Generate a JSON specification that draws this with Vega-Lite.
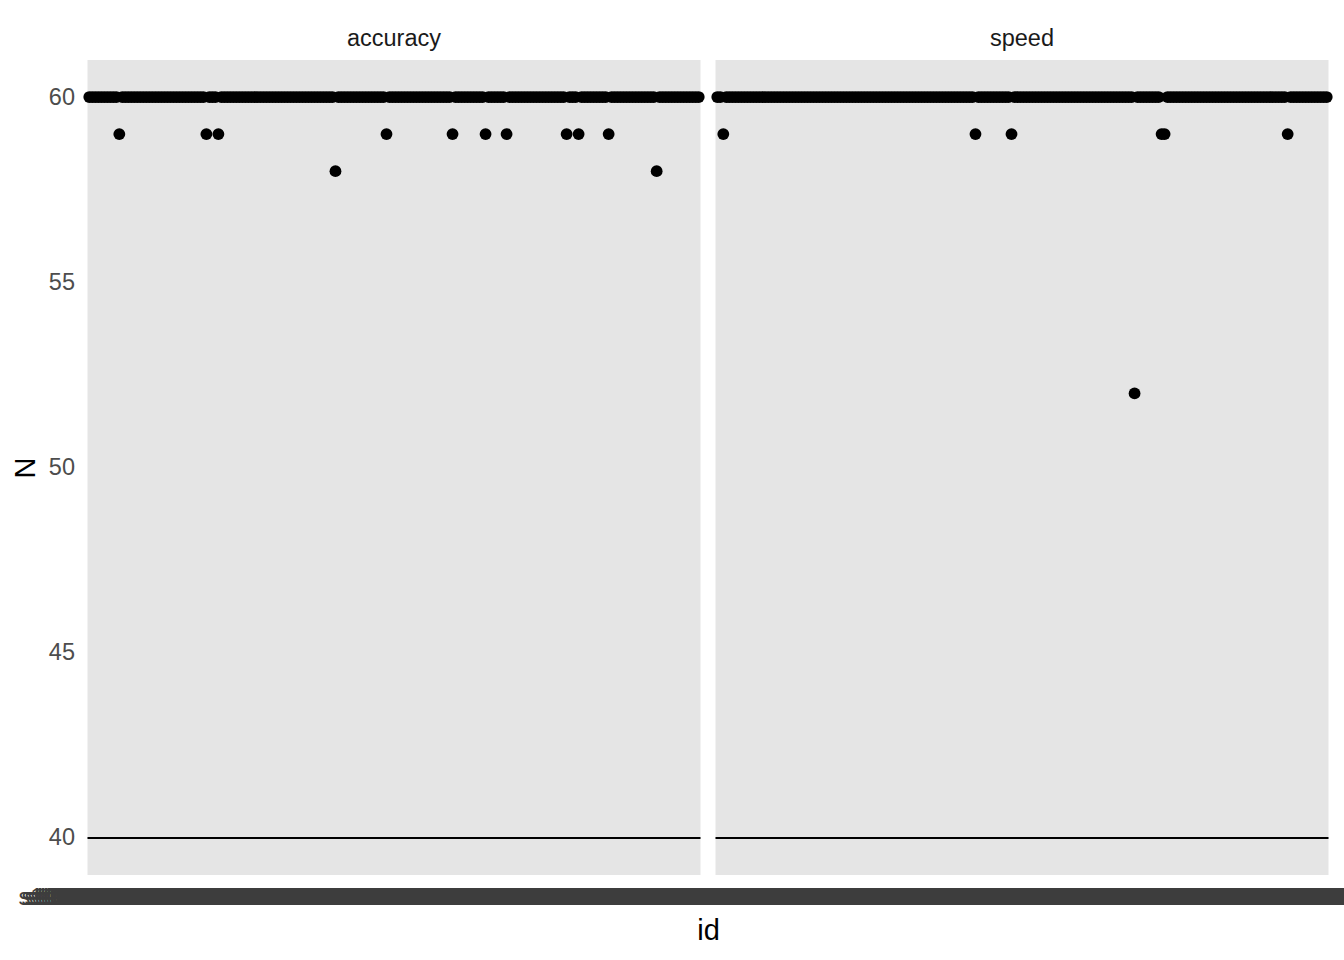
{
  "$schema": "https://vega.github.io/schema/vega-lite/v6.json",
  "padding": {"left": 10.5, "top": 26, "right": 0, "bottom": 5},
  "background": "white",
  "data": {"values": [
    {"id":"s1000000001","accuracy":60,"speed":60},{"id":"s1000000002","accuracy":60,"speed":60},{"id":"s1000000003","accuracy":60,"speed":59},{"id":"s1000000004","accuracy":60,"speed":60},{"id":"s1000000005","accuracy":60,"speed":60},{"id":"s1000000006","accuracy":60,"speed":60},{"id":"s1000000007","accuracy":60,"speed":60},{"id":"s1000000008","accuracy":60,"speed":60},{"id":"s1000000009","accuracy":60,"speed":60},{"id":"s1000000010","accuracy":60,"speed":60},
    {"id":"s1000000011","accuracy":59,"speed":60},{"id":"s1000000012","accuracy":60,"speed":60},{"id":"s1000000013","accuracy":60,"speed":60},{"id":"s1000000014","accuracy":60,"speed":60},{"id":"s1000000015","accuracy":60,"speed":60},{"id":"s1000000016","accuracy":60,"speed":60},{"id":"s1000000017","accuracy":60,"speed":60},{"id":"s1000000018","accuracy":60,"speed":60},{"id":"s1000000019","accuracy":60,"speed":60},{"id":"s1000000020","accuracy":60,"speed":60},
    {"id":"s1000000021","accuracy":60,"speed":60},{"id":"s1000000022","accuracy":60,"speed":60},{"id":"s1000000023","accuracy":60,"speed":60},{"id":"s1000000024","accuracy":60,"speed":60},{"id":"s1000000025","accuracy":60,"speed":60},{"id":"s1000000026","accuracy":60,"speed":60},{"id":"s1000000027","accuracy":60,"speed":60},{"id":"s1000000028","accuracy":60,"speed":60},{"id":"s1000000029","accuracy":60,"speed":60},{"id":"s1000000030","accuracy":60,"speed":60},
    {"id":"s1000000031","accuracy":60,"speed":60},{"id":"s1000000032","accuracy":60,"speed":60},{"id":"s1000000033","accuracy":60,"speed":60},{"id":"s1000000034","accuracy":60,"speed":60},{"id":"s1000000035","accuracy":60,"speed":60},{"id":"s1000000036","accuracy":60,"speed":60},{"id":"s1000000037","accuracy":60,"speed":60},{"id":"s1000000038","accuracy":60,"speed":60},{"id":"s1000000039","accuracy":60,"speed":60},{"id":"s1000000040","accuracy":59,"speed":60},
    {"id":"s1000000041","accuracy":60,"speed":60},{"id":"s1000000042","accuracy":60,"speed":60},{"id":"s1000000043","accuracy":60,"speed":60},{"id":"s1000000044","accuracy":59,"speed":60},{"id":"s1000000045","accuracy":60,"speed":60},{"id":"s1000000046","accuracy":60,"speed":60},{"id":"s1000000047","accuracy":60,"speed":60},{"id":"s1000000048","accuracy":60,"speed":60},{"id":"s1000000049","accuracy":60,"speed":60},{"id":"s1000000050","accuracy":60,"speed":60},
    {"id":"s1000000051","accuracy":60,"speed":60},{"id":"s1000000052","accuracy":60,"speed":60},{"id":"s1000000053","accuracy":60,"speed":60},{"id":"s1000000054","accuracy":60,"speed":60},{"id":"s1000000055","accuracy":60,"speed":60},{"id":"s1000000056","accuracy":60,"speed":60},{"id":"s1000000057","accuracy":60,"speed":60},{"id":"s1000000058","accuracy":60,"speed":60},{"id":"s1000000059","accuracy":60,"speed":60},{"id":"s1000000060","accuracy":60,"speed":60},
    {"id":"s1000000061","accuracy":60,"speed":60},{"id":"s1000000062","accuracy":60,"speed":60},{"id":"s1000000063","accuracy":60,"speed":60},{"id":"s1000000064","accuracy":60,"speed":60},{"id":"s1000000065","accuracy":60,"speed":60},{"id":"s1000000066","accuracy":60,"speed":60},{"id":"s1000000067","accuracy":60,"speed":60},{"id":"s1000000068","accuracy":60,"speed":60},{"id":"s1000000069","accuracy":60,"speed":60},{"id":"s1000000070","accuracy":60,"speed":60},
    {"id":"s1000000071","accuracy":60,"speed":60},{"id":"s1000000072","accuracy":60,"speed":60},{"id":"s1000000073","accuracy":60,"speed":60},{"id":"s1000000074","accuracy":60,"speed":60},{"id":"s1000000075","accuracy":60,"speed":60},{"id":"s1000000076","accuracy":60,"speed":60},{"id":"s1000000077","accuracy":60,"speed":60},{"id":"s1000000078","accuracy":60,"speed":60},{"id":"s1000000079","accuracy":60,"speed":60},{"id":"s1000000080","accuracy":60,"speed":60},
    {"id":"s1000000081","accuracy":60,"speed":60},{"id":"s1000000082","accuracy":60,"speed":60},{"id":"s1000000083","accuracy":58,"speed":60},{"id":"s1000000084","accuracy":60,"speed":60},{"id":"s1000000085","accuracy":60,"speed":60},{"id":"s1000000086","accuracy":60,"speed":60},{"id":"s1000000087","accuracy":60,"speed":59},{"id":"s1000000088","accuracy":60,"speed":60},{"id":"s1000000089","accuracy":60,"speed":60},{"id":"s1000000090","accuracy":60,"speed":60},
    {"id":"s1000000091","accuracy":60,"speed":60},{"id":"s1000000092","accuracy":60,"speed":60},{"id":"s1000000093","accuracy":60,"speed":60},{"id":"s1000000094","accuracy":60,"speed":60},{"id":"s1000000095","accuracy":60,"speed":60},{"id":"s1000000096","accuracy":60,"speed":60},{"id":"s1000000097","accuracy":60,"speed":60},{"id":"s1000000098","accuracy":60,"speed":60},{"id":"s1000000099","accuracy":60,"speed":59},{"id":"s1000000100","accuracy":59,"speed":60},
    {"id":"s1000000101","accuracy":60,"speed":60},{"id":"s1000000102","accuracy":60,"speed":60},{"id":"s1000000103","accuracy":60,"speed":60},{"id":"s1000000104","accuracy":60,"speed":60},{"id":"s1000000105","accuracy":60,"speed":60},{"id":"s1000000106","accuracy":60,"speed":60},{"id":"s1000000107","accuracy":60,"speed":60},{"id":"s1000000108","accuracy":60,"speed":60},{"id":"s1000000109","accuracy":60,"speed":60},{"id":"s1000000110","accuracy":60,"speed":60},
    {"id":"s1000000111","accuracy":60,"speed":60},{"id":"s1000000112","accuracy":60,"speed":60},{"id":"s1000000113","accuracy":60,"speed":60},{"id":"s1000000114","accuracy":60,"speed":60},{"id":"s1000000115","accuracy":60,"speed":60},{"id":"s1000000116","accuracy":60,"speed":60},{"id":"s1000000117","accuracy":60,"speed":60},{"id":"s1000000118","accuracy":60,"speed":60},{"id":"s1000000119","accuracy":60,"speed":60},{"id":"s1000000120","accuracy":60,"speed":60},
    {"id":"s1000000121","accuracy":60,"speed":60},{"id":"s1000000122","accuracy":59,"speed":60},{"id":"s1000000123","accuracy":60,"speed":60},{"id":"s1000000124","accuracy":60,"speed":60},{"id":"s1000000125","accuracy":60,"speed":60},{"id":"s1000000126","accuracy":60,"speed":60},{"id":"s1000000127","accuracy":60,"speed":60},{"id":"s1000000128","accuracy":60,"speed":60},{"id":"s1000000129","accuracy":60,"speed":60},{"id":"s1000000130","accuracy":60,"speed":60},
    {"id":"s1000000131","accuracy":60,"speed":60},{"id":"s1000000132","accuracy":60,"speed":60},{"id":"s1000000133","accuracy":59,"speed":60},{"id":"s1000000134","accuracy":60,"speed":60},{"id":"s1000000135","accuracy":60,"speed":60},{"id":"s1000000136","accuracy":60,"speed":60},{"id":"s1000000137","accuracy":60,"speed":60},{"id":"s1000000138","accuracy":60,"speed":60},{"id":"s1000000139","accuracy":60,"speed":60},{"id":"s1000000140","accuracy":59,"speed":52},
    {"id":"s1000000141","accuracy":60,"speed":60},{"id":"s1000000142","accuracy":60,"speed":60},{"id":"s1000000143","accuracy":60,"speed":60},{"id":"s1000000144","accuracy":60,"speed":60},{"id":"s1000000145","accuracy":60,"speed":60},{"id":"s1000000146","accuracy":60,"speed":60},{"id":"s1000000147","accuracy":60,"speed":60},{"id":"s1000000148","accuracy":60,"speed":60},{"id":"s1000000149","accuracy":60,"speed":59},{"id":"s1000000150","accuracy":60,"speed":59},
    {"id":"s1000000151","accuracy":60,"speed":60},{"id":"s1000000152","accuracy":60,"speed":60},{"id":"s1000000153","accuracy":60,"speed":60},{"id":"s1000000154","accuracy":60,"speed":60},{"id":"s1000000155","accuracy":60,"speed":60},{"id":"s1000000156","accuracy":60,"speed":60},{"id":"s1000000157","accuracy":60,"speed":60},{"id":"s1000000158","accuracy":60,"speed":60},{"id":"s1000000159","accuracy":60,"speed":60},{"id":"s1000000160","accuracy":59,"speed":60},
    {"id":"s1000000161","accuracy":60,"speed":60},{"id":"s1000000162","accuracy":60,"speed":60},{"id":"s1000000163","accuracy":60,"speed":60},{"id":"s1000000164","accuracy":59,"speed":60},{"id":"s1000000165","accuracy":60,"speed":60},{"id":"s1000000166","accuracy":60,"speed":60},{"id":"s1000000167","accuracy":60,"speed":60},{"id":"s1000000168","accuracy":60,"speed":60},{"id":"s1000000169","accuracy":60,"speed":60},{"id":"s1000000170","accuracy":60,"speed":60},
    {"id":"s1000000171","accuracy":60,"speed":60},{"id":"s1000000172","accuracy":60,"speed":60},{"id":"s1000000173","accuracy":60,"speed":60},{"id":"s1000000174","accuracy":59,"speed":60},{"id":"s1000000175","accuracy":60,"speed":60},{"id":"s1000000176","accuracy":60,"speed":60},{"id":"s1000000177","accuracy":60,"speed":60},{"id":"s1000000178","accuracy":60,"speed":60},{"id":"s1000000179","accuracy":60,"speed":60},{"id":"s1000000180","accuracy":60,"speed":60},
    {"id":"s1000000181","accuracy":60,"speed":60},{"id":"s1000000182","accuracy":60,"speed":60},{"id":"s1000000183","accuracy":60,"speed":60},{"id":"s1000000184","accuracy":60,"speed":60},{"id":"s1000000185","accuracy":60,"speed":60},{"id":"s1000000186","accuracy":60,"speed":60},{"id":"s1000000187","accuracy":60,"speed":60},{"id":"s1000000188","accuracy":60,"speed":60},{"id":"s1000000189","accuracy":60,"speed":60},{"id":"s1000000190","accuracy":58,"speed":60},
    {"id":"s1000000191","accuracy":60,"speed":59},{"id":"s1000000192","accuracy":60,"speed":60},{"id":"s1000000193","accuracy":60,"speed":60},{"id":"s1000000194","accuracy":60,"speed":60},{"id":"s1000000195","accuracy":60,"speed":60},{"id":"s1000000196","accuracy":60,"speed":60},{"id":"s1000000197","accuracy":60,"speed":60},{"id":"s1000000198","accuracy":60,"speed":60},{"id":"s1000000199","accuracy":60,"speed":60},{"id":"s1000000200","accuracy":60,"speed":60},
    {"id":"s1000000201","accuracy":60,"speed":60},{"id":"s1000000202","accuracy":60,"speed":60},{"id":"s1000000203","accuracy":60,"speed":60},{"id":"s1000000204","accuracy":60,"speed":60}
  ]},
  "transform": [{"fold": ["accuracy", "speed"], "as": ["condition", "N"]}],
  "facet": {
    "column": {
      "field": "condition", "type": "nominal",
      "header": {"title": "id", "titleOrient": "bottom", "titleFontSize": 29, "titleFontWeight": "normal", "titleColor": "black", "titleFont": "Liberation Sans", "titlePadding": -2, "labelOrient": "top", "labelFontSize": 23.5, "labelColor": "#1A1A1A", "labelFont": "Liberation Sans", "labelPadding": 10}
    }
  },
  "spacing": 15,
  "bounds": "flush",
  "spec": {
    "width": 613,
    "height": 815,
    "layer": [
      {
        "mark": {"type": "point", "filled": true, "color": "black", "opacity": 1, "size": 140},
        "encoding": {
          "x": {
            "field": "id", "type": "nominal",
            "scale": {"type": "point", "padding": 0.6},
            "axis": {"title": null, "labelAngle": 0, "labelOverlap": false, "labelLimit": 400, "labelBound": false, "labelFlush": false, "ticks": false, "grid": false, "domain": false, "labelFontSize": 23.5, "labelColor": "#3D3D3D", "labelPadding": 10}
          },
          "y": {
            "field": "N", "type": "quantitative",
            "scale": {"domain": [39, 61], "nice": false, "zero": false},
            "axis": {"values": [40, 45, 50, 55, 60], "title": "N", "grid": false, "ticks": false, "domain": false, "labelFontSize": 23.5, "labelColor": "#4D4D4D", "labelPadding": 13, "titleFontSize": 29, "titleColor": "black", "titleFontWeight": "normal", "titlePadding": 8}
          }
        }
      },
      {
        "transform": [{"aggregate": [{"op": "count", "as": "n"}], "groupby": ["condition"]}],
        "mark": {"type": "rule", "color": "black", "strokeWidth": 2},
        "encoding": {"y": {"datum": 40}}
      }
    ]
  },
  "config": {
    "view": {"fill": "#E5E5E5", "stroke": null},
    "font": "Liberation Sans"
  }
}
